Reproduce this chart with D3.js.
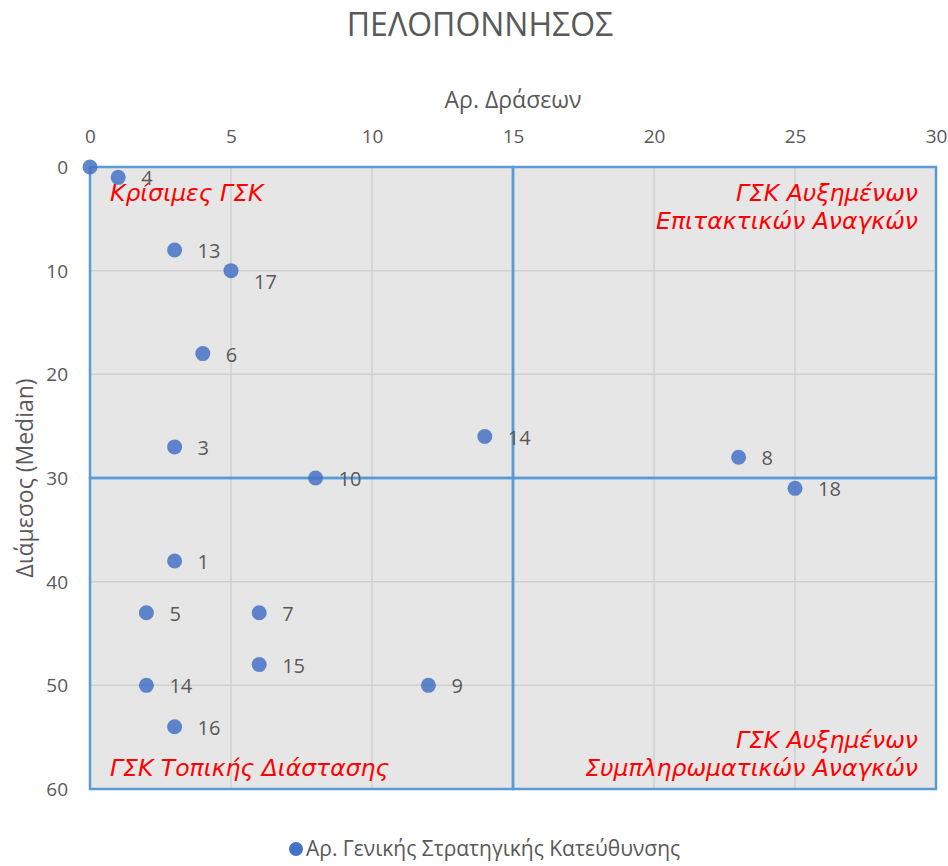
<!DOCTYPE html>
<html><head><meta charset="utf-8">
<script src="https://cdn.jsdelivr.net/npm/d3@7"></script>
<style>body{margin:0;background:#fff}svg{display:block}</style>
</head><body>
<svg id="c" width="948" height="866"></svg>
<script>
const titleText = "ΠΕΛΟΠΟΝΝΗΣΟΣ";
const xTitle = "Αρ. Δράσεων";
const yTitle = "Διάμεσος (Median)";
const legendLabel = "Αρ. Γενικής Στρατηγικής Κατεύθυνσης";
const xTicks = [0, 5, 10, 15, 20, 25, 30];
const yTicks = [0, 10, 20, 30, 40, 50, 60];
const xValues = [0, 1, 3, 5, 4, 3, 8, 14, 23, 25, 3, 2, 6, 6, 2, 12, 3];
const yValues = [0, 1, 8, 10, 18, 27, 30, 26, 28, 31, 38, 43, 43, 48, 50, 50, 54];
const pointLabels = ["", "4", "13", "17", "6", "3", "10", "14", "8", "18", "1", "5", "7", "15", "14", "9", "16"];
const quadrantX = [0, 15, 30];
const quadrantY = [0, 30, 60];
const quadrantNames = [["Κρίσιμες ΓΣΚ"], ["ΓΣΚ Αυξημένων", "Επιτακτικών Αναγκών"], ["ΓΣΚ Τοπικής Διάστασης"], ["ΓΣΚ Αυξημένων", "Συμπληρωματικών Αναγκών"]];

const svg = d3.select("#c");
const font = "'Open Sans', sans-serif";
const L = 90, R = 936, T = 167, B = 789;
const x = d3.scaleLinear().domain([0, 30]).range([L, R]);
const y = d3.scaleLinear().domain([0, 60]).range([T, B]);

svg.append("text").attr("x", 480).attr("y", 36).attr("text-anchor", "middle")
  .attr("font-family", font).attr("font-size", 32).attr("fill", "#595959").text(titleText);

// background
svg.append("rect").attr("x", L).attr("y", T).attr("width", R - L).attr("height", B - T).attr("fill", "#e7e6e6");

// gridlines
const g = svg.append("g");
g.selectAll(".gx").data(xTicks).join("line").attr("x1", d => x(d)).attr("x2", d => x(d))
  .attr("y1", T).attr("y2", B).attr("stroke", "#cfcfcf").attr("stroke-width", 1.5);
g.selectAll(".gy").data(yTicks).join("line").attr("y1", d => y(d)).attr("y2", d => y(d))
  .attr("x1", L).attr("x2", R).attr("stroke", "#cfcfcf").attr("stroke-width", 1.5);

// quadrant boxes
const boxes = [];
for (let r = 0; r < 2; r++) for (let c = 0; c < 2; c++)
  boxes.push({x0: quadrantX[c], x1: quadrantX[c + 1], y0: quadrantY[r], y1: quadrantY[r + 1], r, c});
svg.selectAll(".box").data(boxes).join("rect")
  .attr("x", d => x(d.x0)).attr("y", d => y(d.y0))
  .attr("width", d => x(d.x1) - x(d.x0)).attr("height", d => y(d.y1) - y(d.y0))
  .attr("fill", "none").attr("stroke", "#5b9bd5").attr("stroke-width", 2.5);

// axes
const xAxis = d3.axisTop(x).tickValues(xTicks).tickSize(0).tickPadding(0);
const ax = svg.append("g").attr("transform", `translate(0,${T - 24})`).call(xAxis);
ax.select(".domain").remove();
ax.selectAll("text").attr("font-family", font).attr("font-size", 19).attr("fill", "#595959");
const yAxis = d3.axisLeft(y).tickValues(yTicks).tickSize(0).tickPadding(0);
const ay = svg.append("g").attr("transform", `translate(${L - 22},0)`).call(yAxis);
ay.select(".domain").remove();
ay.selectAll("text").attr("font-family", font).attr("font-size", 19).attr("fill", "#595959").attr("dy", "0.35em");

svg.append("text").attr("x", 513).attr("y", 108).attr("text-anchor", "middle")
  .attr("font-family", font).attr("font-size", 23).attr("fill", "#595959").text(xTitle);
svg.append("text").attr("transform", "translate(33,478) rotate(-90)").attr("text-anchor", "middle")
  .attr("font-family", font).attr("font-size", 23).attr("fill", "#595959").text(yTitle);

// quadrant names
const qfont = "'DejaVu Sans', Verdana, sans-serif";
const qpos = [
  {tx: x(0) + 20, ty: y(0) + 34, anchor: "start"},
  {tx: x(30) - 18, ty: y(0) + 34, anchor: "end"},
  {tx: x(0) + 20, ty: y(60) - 13, anchor: "start"},
  {tx: x(30) - 18, ty: y(60) - 41, anchor: "end"}
];
quadrantNames.forEach((lines, i) => {
  const t = svg.append("text").attr("x", qpos[i].tx).attr("y", qpos[i].ty)
    .attr("text-anchor", qpos[i].anchor).attr("font-family", qfont).attr("font-style", "italic")
    .attr("font-size", 23.5).attr("fill", "#ff0000");
  lines.forEach((s, j) => t.append("tspan").attr("x", qpos[i].tx).attr("dy", j ? 28 : 0).text(s));
});

// points
const pts = xValues.map((v, i) => ({x: v, y: yValues[i], label: pointLabels[i]}));
svg.selectAll(".pt").data(pts).join("circle")
  .attr("cx", d => x(d.x)).attr("cy", d => y(d.y)).attr("r", 7.5)
  .attr("fill", "#4472c4").attr("fill-opacity", 0.85);
svg.selectAll(".lbl").data(pts).join("text")
  .attr("x", d => x(d.x) + 23).attr("y", (d, i) => y(d.y) + (i === 3 ? 11 : 1))
  .attr("dy", "0.35em").attr("font-family", font).attr("font-size", 20).attr("fill", "#595959")
  .text(d => d.label);

// legend
svg.append("circle").attr("cx", 296).attr("cy", 849).attr("r", 7).attr("fill", "#4472c4");
svg.append("text").attr("x", 306).attr("y", 849).attr("dy", "0.35em")
  .attr("font-family", font).attr("font-size", 21).attr("fill", "#595959").text(legendLabel);
</script>
</body></html>
